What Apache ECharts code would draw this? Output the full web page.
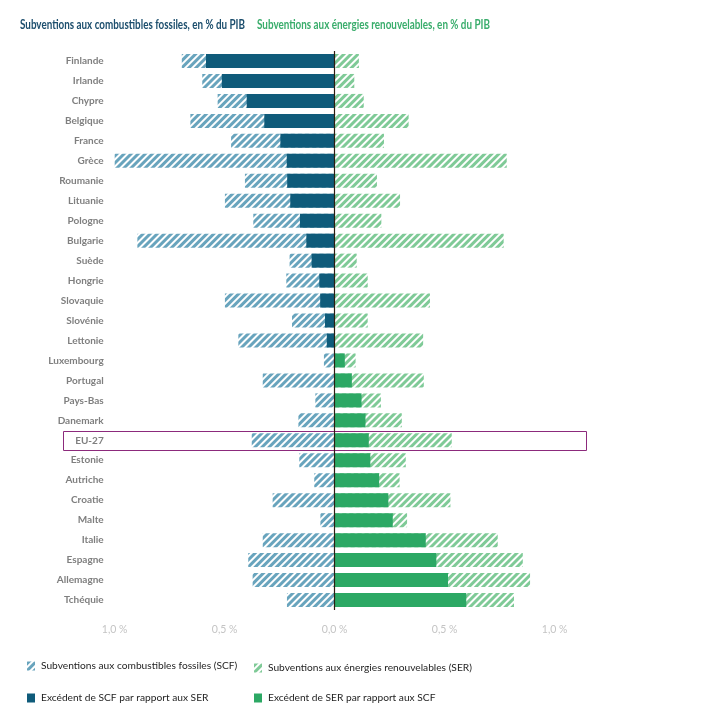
<!DOCTYPE html>
<html>
<head>
<meta charset="utf-8">
<script src="https://cdn.jsdelivr.net/npm/echarts@6/dist/echarts.min.js"></script>
<style>html,body{margin:0;padding:0;background:#fff}#c{width:702px;height:713px}</style>
</head>
<body>
<div id="c"></div>
<script>
const categories = ['Finlande','Irlande','Chypre','Belgique','France','Grèce','Roumanie','Lituanie','Pologne','Bulgarie','Suède','Hongrie','Slovaquie','Slovénie','Lettonie','Luxembourg','Portugal','Pays-Bas','Danemark','EU-27','Estonie','Autriche','Croatie','Malte','Italie','Espagne','Allemagne','Tchéquie'];
// Subventions aux combustibles fossiles (SCF), % du PIB
const scf = [0.695,0.602,0.532,0.656,0.471,1.000,0.408,0.499,0.370,0.897,0.205,0.220,0.499,0.194,0.438,0.049,0.327,0.088,0.165,0.377,0.161,0.093,0.282,0.065,0.327,0.393,0.373,0.217];
// Subventions aux énergies renouvelables (SER), % du PIB
const ser = [0.110,0.089,0.132,0.336,0.224,0.782,0.192,0.297,0.212,0.768,0.100,0.150,0.433,0.150,0.402,0.095,0.405,0.210,0.305,0.532,0.323,0.295,0.526,0.329,0.741,0.855,0.888,0.815];
const xTicks = [-1, -0.5, 0, 0.5, 1];
const titles = ['Subventions aux combustibles fossiles, en % du PIB', 'Subventions aux énergies renouvelables, en % du PIB'];
const names = ['Subventions aux combustibles fossiles (SCF)','Subventions aux énergies renouvelables (SER)','Excédent de SCF par rapport aux SER','Excédent de SER par rapport aux SCF'];

const FONT = 'Lato, "Liberation Sans", sans-serif';
const blueStripe = '#68a4bd', greenStripe = '#7fca97', darkBlue = '#0f5b7a', green = '#2ca864';

const scfExcess = scf.map((v,i)=> v > ser[i] ? -(v - ser[i]) : 0);
const serExcess = ser.map((v,i)=> v > scf[i] ? (v - scf[i]) : 0);

function decal(color){
  return {symbol:'rect', symbolSize:1, symbolKeepAspect:false, dashArrayX:[1,0], dashArrayY:[2.2,1.6], rotation:-Math.PI/4, color:color};
}
// horizontal squeeze factor so the title text spans the wanted width
const mctx = document.createElement('canvas').getContext('2d');
function fitScale(text, w){ mctx.font = 'bold 13px Lato'; return Math.min(1, w / mctx.measureText(text).width); }

const chart = echarts.init(document.getElementById('c'), null, {renderer:'canvas'});
const legendBase = {orient:'horizontal', itemWidth:8, itemHeight:9, icon:'rect', textStyle:{fontFamily:FONT, fontSize:10.2, color:'#1e1e1e', padding:[0,0,0,1]}, selectedMode:false};
chart.setOption({
  animation:false,
  textStyle:{fontFamily:FONT},
  legend:[
    Object.assign({}, legendBase, {data:[names[0]], left:22, top:656}),
    Object.assign({}, legendBase, {data:[names[1]], left:249, top:658}),
    Object.assign({}, legendBase, {data:[names[2]], left:22, top:688}),
    Object.assign({}, legendBase, {data:[names[3]], left:249, top:688})
  ],
  grid:{left:114.7, right:147.3, top:51, bottom:103, containLabel:false},
  xAxis:{type:'value', min:xTicks[0], max:xTicks[xTicks.length-1], interval:0.5,
    axisLine:{show:false}, axisTick:{show:false}, splitLine:{show:false},
    axisLabel:{margin:14, color:'#c4c4c4', fontSize:10.5, fontFamily:FONT,
      formatter:v=>Math.abs(v).toFixed(1).replace('.',',')+' %'}},
  yAxis:{type:'category', data:categories, inverse:true,
    axisLine:{show:false}, axisTick:{show:false},
    axisLabel:{margin:11, color:'#7f7f7f', fontSize:10, fontWeight:'bold', fontFamily:FONT}},
  graphic:[
    {type:'text', x:20, y:24.5, scaleX:fitScale(titles[0], 225), silent:true,
      style:{text:titles[0], fontFamily:'Lato', fontSize:13, fontWeight:'bold', fill:'#1c4e6d', verticalAlign:'middle'}},
    {type:'text', x:257, y:24.5, scaleX:fitScale(titles[1], 233), silent:true,
      style:{text:titles[1], fontFamily:'Lato', fontSize:13, fontWeight:'bold', fill:'#3aad6c', verticalAlign:'middle'}}
  ],
  series:[
    {name:names[0], type:'bar', barWidth:14, barGap:'-100%', data:scf.map(v=>-v),
      itemStyle:{color:'#ffffff', decal:decal(blueStripe)},
      markLine:{silent:true, symbol:'none', label:{show:false}, lineStyle:{color:'#2b1d10', type:'solid', width:1.2}, data:[{xAxis:0}]}},
    {name:names[1], type:'bar', barWidth:14, barGap:'-100%', data:ser,
      itemStyle:{color:'#ffffff', decal:decal(greenStripe)}},
    {name:names[2], type:'bar', barWidth:14, barGap:'-100%', data:scfExcess, itemStyle:{color:darkBlue}},
    {name:names[3], type:'bar', barWidth:14, barGap:'-100%', data:serExcess, itemStyle:{color:green}}
  ]
});
const eu = chart.convertToPixel({yAxisIndex:0}, 'EU-27');
chart.setOption({graphic:[{}, {}, {type:'rect', silent:true, shape:{x:63.5, y:Math.round(eu-9.5)+0.5, width:523, height:19}, style:{fill:'none', stroke:'#8c2a7c', lineWidth:1}}]});
</script>
</body>
</html>
